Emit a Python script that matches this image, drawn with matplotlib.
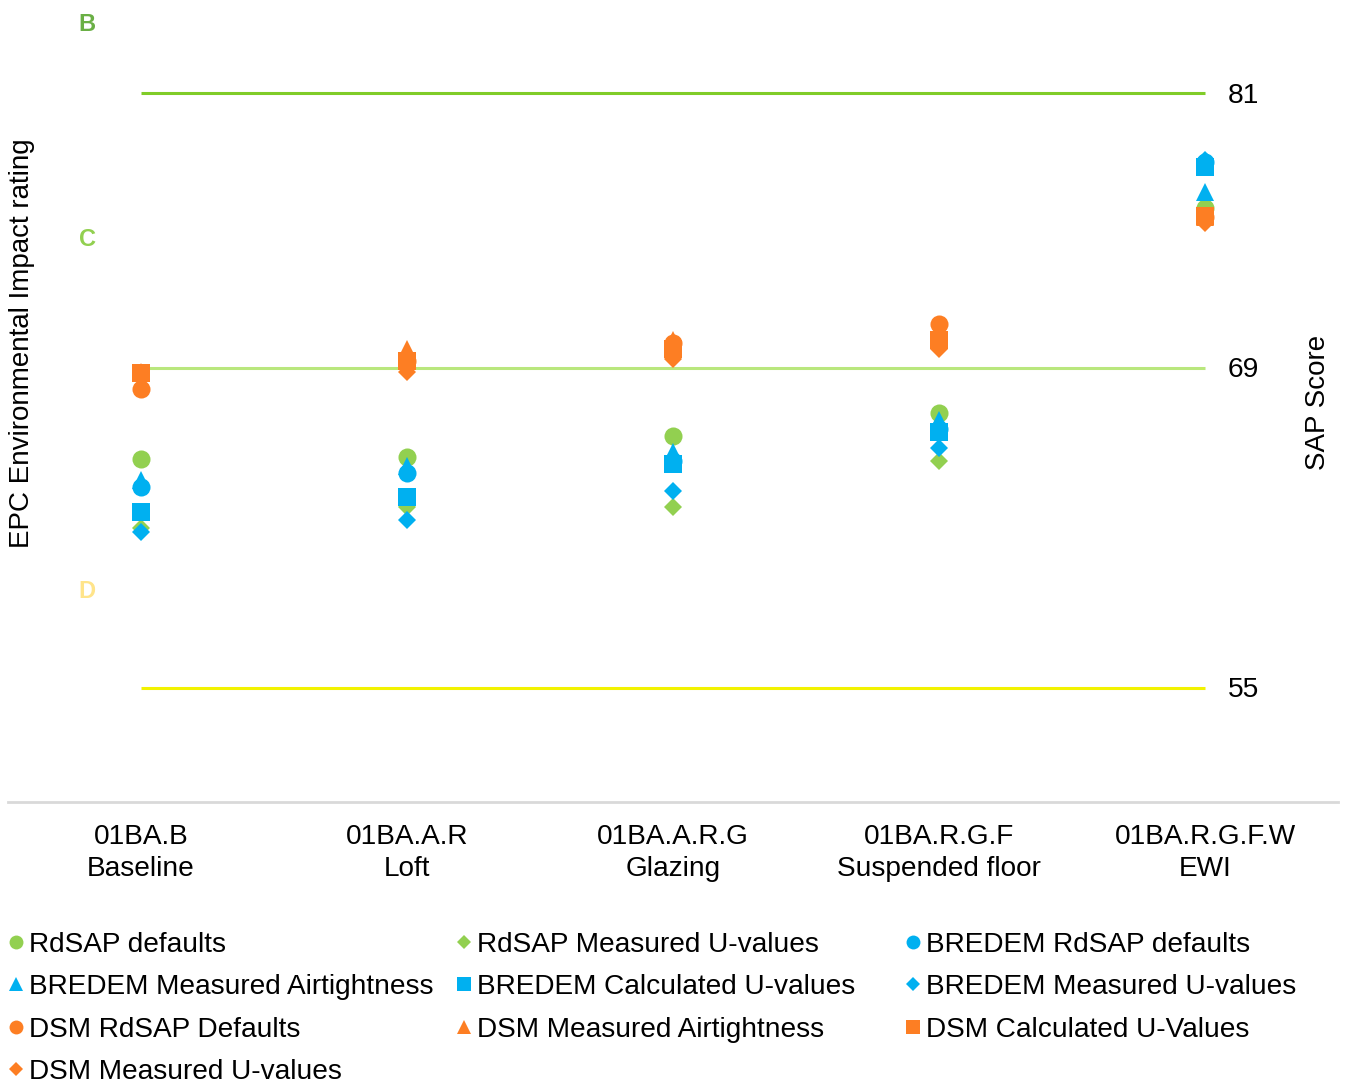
import matplotlib
matplotlib.use("Agg")
import matplotlib.pyplot as plt

plt.rcParams['font.family'] = ['Liberation Sans', 'DejaVu Sans']

# Retrofit stages (x axis)
stages = ["01BA.B\nBaseline", "01BA.A.R\nLoft", "01BA.A.R.G\nGlazing",
          "01BA.R.G.F\nSuspended floor", "01BA.R.G.F.W\nEWI"]

# SAP scores per model variant
series_names = [
    "RdSAP defaults", "RdSAP Measured U-values", "BREDEM RdSAP defaults",
    "BREDEM Measured Airtightness", "BREDEM Calculated U-values",
    "BREDEM Measured U-values", "DSM RdSAP Defaults",
    "DSM Measured Airtightness", "DSM Calculated U-Values",
    "DSM Measured U-values",
]
rdsap_defaults = [65.0, 65.1, 66.0, 67.0, 76.0]
rdsap_measured_u = [62.0, 62.9, 62.9, 64.9, 75.8]
bredem_rdsap_defaults = [63.8, 64.4, 64.9, 66.3, 78.0]
bredem_measured_air = [64.1, 64.7, 65.3, 66.7, 76.7]
bredem_calc_u = [62.7, 63.35, 64.8, 66.2, 77.8]
bredem_measured_u = [61.8, 62.35, 63.6, 65.5, 78.1]
dsm_rdsap_defaults = [68.05, 69.3, 70.1, 70.9, 75.6]
dsm_measured_air = [68.8, 69.8, 70.2, 70.3, 75.6]
dsm_calc_u = [68.75, 69.3, 69.8, 70.2, 75.65]
dsm_measured_u = [68.7, 68.8, 69.4, 69.8, 75.35]

# EPC band thresholds and band letters
band_limits = [81, 69, 55]
band_letters = ["B", "C", "D"]
band_letter_pos = [84.0, 74.6, 59.2]

GREEN = "#92d050"
BLUE = "#00b0f0"
ORANGE = "#fd7e23"

series_values = [rdsap_defaults, rdsap_measured_u, bredem_rdsap_defaults,
                 bredem_measured_air, bredem_calc_u, bredem_measured_u,
                 dsm_rdsap_defaults, dsm_measured_air, dsm_calc_u,
                 dsm_measured_u]
styles = [
    (GREEN, "o", 13), (GREEN, "D", 9.5), (BLUE, "o", 13),
    (BLUE, "^", 13), (BLUE, "s", 13), (BLUE, "D", 9.5),
    (ORANGE, "o", 13), (ORANGE, "^", 13), (ORANGE, "s", 13),
    (ORANGE, "D", 9.5),
]
legend_sizes = {"o": 10, "D": 7, "^": 10, "s": 9.5}

fig = plt.figure(figsize=(13.47, 10.81), dpi=100)
ax = fig.add_axes([8 / 1347, 1 - 802 / 1081, 1330 / 1347, 800 / 1081])
ax.set_xlim(-0.5, len(stages) - 0.5)
ax.set_ylim(50, 85)

x = list(range(len(stages)))

# band threshold lines
band_line_colors = ["#80cc28", "#b9e77d", "#f2f200"]
for lim, col in zip(band_limits, band_line_colors):
    ax.plot([x[0], x[-1]], [lim, lim], color=col, lw=2.2, zorder=1,
            solid_capstyle="butt")
    ax.text(4.145, lim - 0.12, str(lim), ha="center", va="center",
            fontsize=20.3, color="black")

letter_colors = ["#6aaf45", "#92d050", "#ffe48a"]
for letter, pos, col in zip(band_letters, band_letter_pos, letter_colors):
    ax.text(-0.203, pos, letter, ha="center", va="center", fontsize=17,
            fontweight="bold", color=col)

handles = []
for name, vals, (col, mk, ms) in zip(series_names, series_values, styles):
    ax.plot(x, vals, linestyle="none", marker=mk, markersize=ms,
            color=col, markeredgewidth=0, zorder=3)
    h, = plt.plot([], [], linestyle="none", marker=mk,
                  markersize=legend_sizes[mk], color=col,
                  markeredgewidth=0, label=name)
    handles.append(h)

ax.set_xticks(x)
ax.set_xticklabels(stages, fontsize=20.2, linespacing=1.3)
ax.tick_params(axis="x", length=0, pad=16)
ax.set_yticks([])
for side in ["top", "left", "right"]:
    ax.spines[side].set_visible(False)
ax.spines["bottom"].set_color("#d9d9d9")
ax.spines["bottom"].set_linewidth(2)

fig.text(22 / 1347, 1 - 343 / 1081, "EPC Environmental Impact rating",
         rotation=90, ha="center", va="center", fontsize=20)
fig.text(1318 / 1347, 1 - 402 / 1081, "SAP Score", rotation=90,
         ha="center", va="center", fontsize=20)

# legend laid out row by row in three equal columns
col_x = [8 / 1347, 456 / 1347, 905 / 1347]
for c in range(3):
    hs = handles[c::3]
    fig.legend(handles=hs, labels=[h.get_label() for h in hs],
               loc="upper left", bbox_to_anchor=(col_x[c], 1 - 932 / 1081),
               frameon=False, fontsize=20.2, handlelength=0.6,
               handletextpad=0.15, labelspacing=0.58, borderpad=0,
               borderaxespad=0)

fig.savefig("out.png", dpi=100)
